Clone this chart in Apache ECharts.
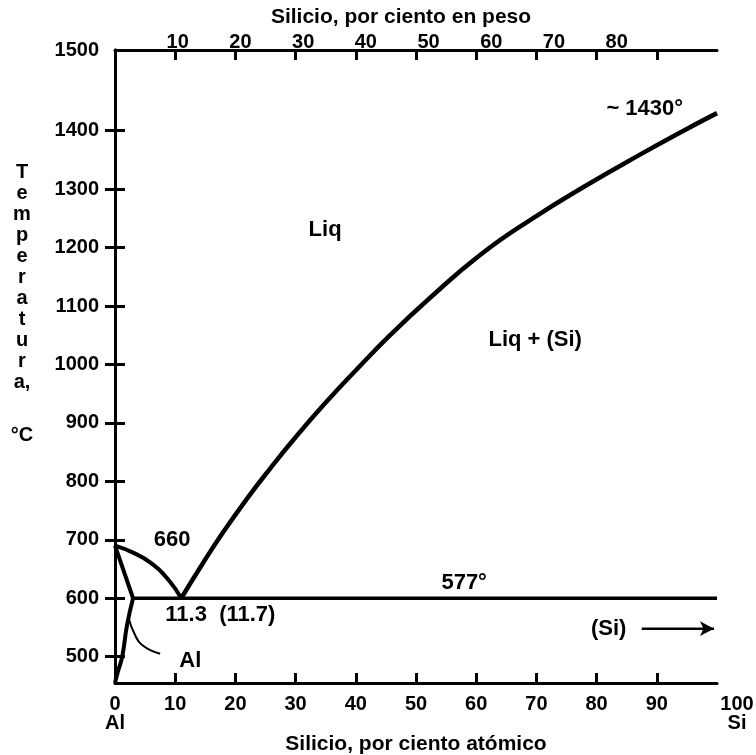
<!DOCTYPE html>
<html>
<head>
<meta charset="utf-8">
<script src="https://cdn.jsdelivr.net/npm/echarts@6/dist/echarts.min.js"></script>
<style>
  html, body { margin: 0; padding: 0; background: #fff; }
  #chart { width: 756px; height: 755px; }
</style>
</head>
<body>
<div id="chart"></div>
<script>
  // Al-Si diagram, x = at.% Si, y = temperature in °C
  const liqAlX = [0, 3, 6, 9, 11];
  const liqAlT = [690, 678, 660, 630, 600];
  const liqSiX = [11, 14.6, 17.9, 21.9, 25.7, 30.2, 35.2, 40.1, 45.7, 51.8, 60.6, 69.4, 78.4, 87.2, 93.9, 100];
  const liqSiT = [600, 660, 712, 770, 821, 878, 937, 991, 1050, 1109, 1187, 1250, 1307, 1359, 1397, 1430];
  const solidusX = [0, 3];
  const solidusT = [690, 600];
  const solvusX = [3, 2, 1.2, 0.5, 0];
  const solvusT = [600, 554, 500, 475, 455];
  const eutecticX = [3, 100];
  const eutecticT = [600, 600];
  const leaderX = [2.3, 3.2, 4.5, 7.5];
  const leaderT = [565, 540, 520, 505];
  const arrowX = [87.5, 99.5];
  const arrowT = [548, 548];

  const atTicks = [10, 20, 30, 40, 50, 60, 70, 80, 90];
  const atLabels = [0, 10, 20, 30, 40, 50, 60, 70, 80, 90];
  const wtLabels = [10, 20, 30, 40, 50, 60, 70, 80];
  const tempTicks = [500, 600, 700, 800, 900, 1000, 1100, 1200, 1300, 1400];

  const notes = [
    [34.9, 1230, 'Liq'],
    [69.8, 1042, 'Liq + (Si)'],
    [88, 1438, '~ 1430°'],
    [9.5, 700, '660'],
    [58, 626, '577°'],
    [17.5, 572, '11.3  (11.7)'],
    [12.5, 493, 'Al'],
    [82, 548, '(Si)']
  ];

  const T_MIN = 455, T_MAX = 1538;
  const FONT = '"Liberation Sans", Arial, sans-serif';
  const txt = { fontFamily: FONT, fontWeight: 'bold', color: '#000', fontSize: 20 };

  const pairs = (xs, ys) => xs.map((x, i) => [x, ys[i]]);
  const curve = (name, xs, ys, width, smooth) => ({
    name: name,
    type: 'line',
    data: pairs(xs, ys),
    smooth: smooth,
    symbol: 'none',
    lineStyle: { color: '#000', width: width },
    z: 3
  });

  const chart = echarts.init(document.getElementById('chart'));

  chart.setOption({
    animation: false,
    backgroundColor: '#fff',
    grid: { left: 115, right: 39, top: 50, bottom: 72, outerBoundsMode: 'none', containLabel: false },
    graphic: [
      {
        type: 'text', x: 22, y: 162,
        style: {
          text: 'T\ne\nm\np\ne\nr\na\nt\nu\nr\na,',
          font: 'bold 20px "Liberation Sans", Arial, sans-serif',
          fill: '#000', align: 'center', verticalAlign: 'top', lineHeight: 21
        }
      },
      {
        type: 'text', x: 22, y: 435,
        style: {
          text: '°C',
          font: 'bold 20px "Liberation Sans", Arial, sans-serif',
          fill: '#000', align: 'center', verticalAlign: 'middle'
        }
      }
    ],
    xAxis: [
      {
        type: 'value', position: 'bottom', min: 0, max: 100,
        name: 'Silicio, por ciento atómico', nameLocation: 'middle', nameGap: 51,
        nameMoveOverlap: false,
        nameTextStyle: Object.assign({}, txt, { fontSize: 21 }),
        axisLine: { lineStyle: { color: '#000', width: 3 } },
        axisTick: { inside: true, length: 10, customValues: atTicks, lineStyle: { color: '#000', width: 3 } },
        axisLabel: Object.assign({}, txt, {
          margin: 12, lineHeight: 19, customValues: atLabels,
          formatter: v => v === 0 ? '0\nAl' : String(v)
        }),
        splitLine: { show: false }
      },
      {
        type: 'value', position: 'top', min: 0, max: 100, offset: 0,
        axisLine: { lineStyle: { color: '#000', width: 3 } },
        axisTick: { inside: true, length: 10, customValues: atTicks, lineStyle: { color: '#000', width: 3 } },
        axisLabel: { show: false },
        splitLine: { show: false }
      },
      {
        // weight % scale, labels only
        type: 'value', position: 'top', min: 0, max: 96, offset: 0,
        name: 'Silicio, por ciento en peso', nameLocation: 'middle', nameGap: 22,
        nameMoveOverlap: false,
        nameTextStyle: Object.assign({}, txt, { fontSize: 21, padding: [0, 30, 0, 0] }),
        axisLine: { show: false },
        axisTick: { show: false },
        axisLabel: Object.assign({}, txt, { margin: -2, customValues: wtLabels }),
        splitLine: { show: false }
      }
    ],
    yAxis: [
      {
        type: 'value', position: 'left', min: T_MIN, max: T_MAX,
        axisLine: { lineStyle: { color: '#000', width: 3 } },
        axisTick: { inside: true, length: 10, customValues: tempTicks, lineStyle: { color: '#000', width: 3 } },
        axisLabel: Object.assign({}, txt, {
          margin: 16, customValues: tempTicks.concat([T_MAX]),
          formatter: v => v === T_MAX ? '1500' : String(v)
        }),
        splitLine: { show: false }
      },
      {
        type: 'value', position: 'right', min: T_MIN, max: T_MAX,
        axisLine: { show: true, lineStyle: { color: '#000', width: 3 } },
        axisTick: { inside: true, length: 10, customValues: tempTicks, lineStyle: { color: '#000', width: 3 } },
        axisLabel: { show: false },
        splitLine: { show: false }
      }
    ],
    series: [
      curve('liquidus Al', liqAlX, liqAlT, 4, true),
      curve('liquidus Si', liqSiX, liqSiT, 4.5, true),
      curve('solidus', solidusX, solidusT, 4, false),
      curve('solvus', solvusX, solvusT, 4, true),
      curve('eutectic', eutecticX, eutecticT, 3.5, false),
      curve('leader', leaderX, leaderT, 2, true),
      {
        name: 'arrow',
        type: 'line',
        data: [
          { value: [arrowX[0], arrowT[0]], symbol: 'none' },
          { value: [arrowX[1], arrowT[1]], symbol: 'arrow', symbolSize: [11, 14], symbolRotate: -90, symbolKeepAspect: true }
        ],
        lineStyle: { color: '#000', width: 2.5 },
        itemStyle: { color: '#000' },
        z: 4
      },
      {
        name: 'notes',
        type: 'scatter',
        symbolSize: 0,
        clip: false,
        itemStyle: { opacity: 1, color: '#000' },
        data: notes,
        label: Object.assign({}, txt, {
          show: true, position: 'inside', fontSize: 22,
          formatter: p => p.data[2]
        }),
        z: 5
      },
      {
        name: 'end label',
        type: 'scatter',
        symbolSize: 0,
        clip: false,
        itemStyle: { opacity: 1, color: '#000' },
        data: [[100, T_MIN]],
        label: Object.assign({}, txt, {
          show: true, position: 'inside', lineHeight: 19, offset: [20, 31],
          formatter: () => '100\nSi'
        }),
        z: 5
      }
    ]
  });

  window.addEventListener('resize', () => chart.resize());
</script>
</body>
</html>
